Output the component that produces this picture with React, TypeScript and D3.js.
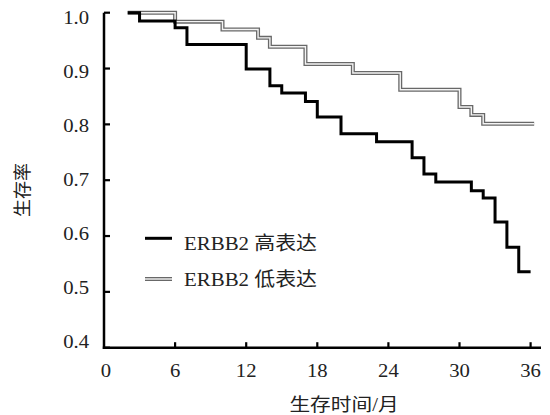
import React from "react";
import * as d3 from "d3";

const highTimes = [2, 3, 6, 7, 12, 14, 15, 17, 18, 20, 23, 26, 27, 28, 31, 32, 33, 34, 35, 36];
const highSurv = [1.0, 0.985, 0.973, 0.943, 0.899, 0.869, 0.856, 0.841, 0.813, 0.783, 0.769, 0.74, 0.711, 0.697, 0.681, 0.668, 0.625, 0.58, 0.536, 0.536];
const lowTimes = [2, 6, 10, 13, 14, 17, 21, 25, 30, 31, 32, 36.3];
const lowSurv = [1.0, 0.984, 0.97, 0.955, 0.939, 0.908, 0.892, 0.862, 0.831, 0.817, 0.801, 0.801];
const xTicks = [0, 6, 12, 18, 24, 30, 36];
const yTicks = [0.4, 0.5, 0.6, 0.7, 0.8, 0.9, 1.0];
const legendLabels = ["ERBB2 高表达", "ERBB2 低表达"];
const xTitle = "生存时间/月";
const yTitle = "生存率";

const FONT = "'Liberation Serif', 'Times New Roman', 'Noto Sans CJK SC', serif";
const TEXT_COLOR = "#222";

function T({
  x,
  y,
  anchor = "start",
  size = 18,
  sx = 1.15,
  rotate = 0,
  children,
}: {
  x: number;
  y: number;
  anchor?: "start" | "middle" | "end";
  size?: number;
  sx?: number;
  rotate?: number;
  children: React.ReactNode;
}) {
  return (
    <text
      transform={`translate(${x},${y}) rotate(${rotate}) scale(${sx},1)`}
      textAnchor={anchor}
      dominantBaseline="central"
      fontFamily={FONT}
      fontSize={size}
      fill={TEXT_COLOR}
    >
      {children}
    </text>
  );
}

export default function App() {
  const x = d3.scaleLinear().domain([0, 36]).range([104, 530.6]);
  const y = d3.scaleLinear().domain([0.4, 1.0]).range([347.7, 12.7]);
  const yLab = d3.scaleLinear().domain([0.4, 1.0]).range([342, 18]);

  const line = d3
    .line<[number, number]>()
    .x((d) => x(d[0]))
    .y((d) => y(d[1]))
    .curve(d3.curveStepAfter);

  const high = highTimes.map((t, i) => [t, highSurv[i]] as [number, number]);
  const low = lowTimes.map((t, i) => [t, lowSurv[i]] as [number, number]);

  return (
    <svg
      width={550}
      height={415}
      style={{ position: "absolute", left: 0, top: 0, background: "#fff" }}
    >
      {/* axes */}
      <line x1={104} x2={104} y1={y(1.0)} y2={y(0.4) + 1.2} stroke="#000" strokeWidth={2.5} />
      <line x1={104 - 1.2} x2={541} y1={y(0.4)} y2={y(0.4)} stroke="#000" strokeWidth={2.5} />
      {yTicks.map((v) => (
        <g key={"yt" + v}>
          <line x1={104} x2={110} y1={y(v)} y2={y(v)} stroke="#000" strokeWidth={2.2} />
          <T x={89} y={yLab(v)} anchor="end">
            {v.toFixed(1)}
          </T>
        </g>
      ))}
      {xTicks.map((t) => (
        <g key={"xt" + t}>
          {t > 0 && (
            <line x1={x(t)} x2={x(t)} y1={y(0.4)} y2={y(0.4) - 5.5} stroke="#000" strokeWidth={2.2} />
          )}
          <T x={x(t) + (t === 0 ? 2 : 0)} y={371} anchor="middle">
            {t}
          </T>
        </g>
      ))}
      {/* axis titles */}
      <T x={344} y={405} anchor="middle">
        {xTitle}
      </T>
      <T x={23} y={190} anchor="middle" rotate={-90} sx={1}>
        {yTitle}
      </T>

      {/* curves */}
      <path d={line(low) || ""} fill="none" stroke="#686868" strokeWidth={4} />
      <path d={line(low) || ""} fill="none" stroke="#f4f4f4" strokeWidth={1.4} />
      <path d={line(high) || ""} fill="none" stroke="#000" strokeWidth={3} />

      {/* legend */}
      <line x1={145} x2={172} y1={238.3} y2={238.3} stroke="#000" strokeWidth={3} />
      <T x={184} y={243} size={19} sx={1.1}>
        {legendLabels[0]}
      </T>
      <line x1={145} x2={172} y1={279} y2={279} stroke="#686868" strokeWidth={4} />
      <line x1={145} x2={172} y1={279} y2={279} stroke="#f4f4f4" strokeWidth={1.4} />
      <T x={184} y={279} size={19} sx={1.1}>
        {legendLabels[1]}
      </T>
    </svg>
  );
}
